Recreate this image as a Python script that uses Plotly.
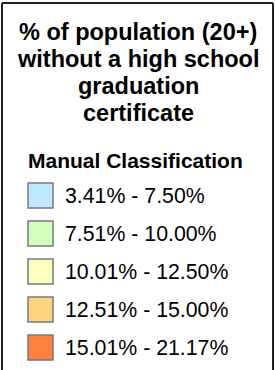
import plotly.graph_objects as go

title_lines = ["% of population (20+)", "without a high school", "graduation", "certificate"]
subtitle = "Manual Classification"
class_labels = ["3.41% - 7.50%", "7.51% - 10.00%", "10.01% - 12.50%", "12.51% - 15.00%", "15.01% - 21.17%"]
class_colors = ["#BEE8FF", "#D3FFBE", "#FFFFBE", "#FFD37F", "#FF7F3F"]

W, H = 275, 370
FONT = "Liberation Sans, Arial, sans-serif"

# layout constants (pixels)
row_top0 = 182
row_step = 38
sw_size = 27
sw_left = 27
label_x = 63
title_y0 = 32
title_step = 27

fig = go.Figure()

row_centers = [row_top0 + sw_size / 2 + row_step * i for i in range(len(class_labels))]

fig.add_trace(go.Scatter(
    x=[sw_left + sw_size / 2] * len(class_labels),
    y=row_centers,
    mode="markers",
    marker=dict(symbol="square", size=sw_size - 2, color=class_colors,
                line=dict(color="#7a7a7a", width=1.5)),
    hoverinfo="skip",
    showlegend=False,
))

annotations = []
for i, t in enumerate(title_lines):
    annotations.append(dict(
        x=W / 2 + 0.5, y=title_y0 + title_step * i, xref="x", yref="y",
        text=f"<b>{t}</b>", showarrow=False, xanchor="center", yanchor="middle",
        font=dict(family=FONT, size=23.5, color="#000000"),
    ))
annotations.append(dict(
    x=26, y=160, xref="x", yref="y", text=f"<b>{subtitle}</b>", showarrow=False,
    xanchor="left", yanchor="middle", font=dict(family=FONT, size=21, color="#000000"),
))
for i, lab in enumerate(class_labels):
    annotations.append(dict(
        x=label_x, y=row_centers[i], xref="x", yref="y", text=lab, showarrow=False,
        xanchor="left", yanchor="middle", font=dict(family=FONT, size=21.3, color="#000000"),
    ))

shapes = [
    dict(type="line", xref="x", yref="y", x0=2, x1=2, y0=3, y1=H + 5,
         line=dict(color="#222222", width=2)),
    dict(type="line", xref="x", yref="y", x0=273, x1=273, y0=3, y1=H + 5,
         line=dict(color="#222222", width=2)),
    dict(type="line", xref="x", yref="y", x0=2, x1=273, y0=3, y1=3,
         line=dict(color="#222222", width=2)),
]

fig.update_layout(
    width=W, height=H,
    margin=dict(l=0, r=0, t=0, b=0),
    paper_bgcolor="white", plot_bgcolor="white",
    xaxis=dict(range=[0, W], visible=False, fixedrange=True),
    yaxis=dict(range=[H, 0], visible=False, fixedrange=True),
    annotations=annotations,
    shapes=shapes,
    showlegend=False,
)

fig.write_html("out.html", config={"displayModeBar": False},
               post_script="document.body.style.margin='0';document.body.style.overflow='hidden';")
